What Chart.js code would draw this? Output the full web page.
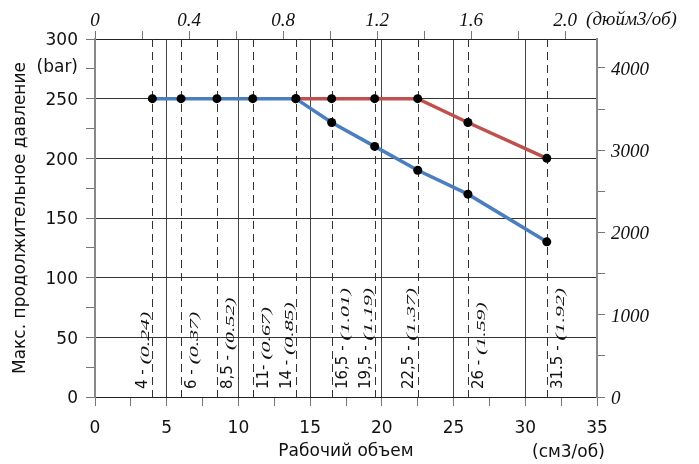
<!DOCTYPE html>
<html>
<head>
<meta charset="utf-8">
<script src="https://cdn.jsdelivr.net/npm/chart.js@4/dist/chart.umd.min.js"></script>
<style>
  html, body { margin: 0; padding: 0; background: #fff; }
  #chart { display: block; }
</style>
</head>
<body>
<canvas id="chart" width="699" height="464"></canvas>
<script>
// Daten
const displacement = [4, 6, 8.5, 11, 14, 16.5, 19.5, 22.5, 26, 31.5];
const displacementInch = ['0.24', '0.37', '0.52', '0.67', '0.85', '1.01', '1.19', '1.37', '1.59', '1.92'];
const sizeNames = ['4 - ', '6 - ', '8,5 - ', '11- ', '14 - ', '16,5 - ', '19,5 - ', '22,5 - ', '26 - ', '31.5 - '];
const pressureBlue = [250, 250, 250, 250, 250, 230, 210, 190, 170, 130];
const pressureRed = [null, null, null, null, 250, 250, 250, 250, 230, 200];

// Achsen-Ticks
const xTickValues = [0, 2.5, 5, 7.5, 10, 12.5, 15, 17.5, 20, 22.5, 25, 27.5, 30, 32.5, 35];
const yTickValues = [0, 25, 50, 75, 100, 125, 150, 175, 200, 225, 250, 275, 300];
const psiTickValues = [0, 500, 1000, 1500, 2000, 2500, 3000, 3500, 4000];
const inchTickValues = [0, 0.2, 0.4, 0.6, 0.8, 1.0, 1.2, 1.4, 1.6, 1.8, 2.0];

const BAR_TO_PSI = 14.5038;
const CM3_PER_IN3 = 16.387;

// Beschriftung links (-1) oder rechts (1) der gestrichelten Linie
const labelSide = [-1, 1, 1, 1, -1, 1, -1, -1, 1, 1];

const SANS = "'DejaVu Sans', sans-serif";
const SERIF = "'Liberation Serif', serif";

function toPoints(values) {
    return displacement.map((x, i) => ({x: x, y: values[i]})).filter(p => p.y !== null);
}

function setTicks(values) {
    return scale => { scale.ticks = values.map(v => ({value: v})); };
}

// gestrichelte Linien + senkrechte Beschriftungen
const annotations = {
    id: 'annotations',
    beforeDatasetsDraw(chart) {
        const ctx = chart.ctx;
        const x = chart.scales.x;
        const area = chart.chartArea;
        ctx.save();
        ctx.strokeStyle = '#333';
        ctx.lineWidth = 1;
        ctx.setLineDash([8, 5]);
        displacement.forEach(v => {
            const px = Math.round(x.getPixelForValue(v)) + 0.5;
            ctx.beginPath();
            ctx.moveTo(px, area.top);
            ctx.lineTo(px, area.bottom);
            ctx.stroke();
        });
        ctx.setLineDash([]);
        ctx.fillStyle = '#111';
        ctx.textBaseline = 'alphabetic';
        ctx.textAlign = 'left';
        displacement.forEach((v, i) => {
            const px = x.getPixelForValue(v);
            const bx = labelSide[i] < 0 ? px - 5 : px + 15;
            ctx.save();
            ctx.translate(bx, area.bottom - 8);
            ctx.rotate(-Math.PI / 2);
            ctx.font = '15px ' + SANS;
            ctx.fillText(sizeNames[i], 0, 0);
            const w = ctx.measureText(sizeNames[i]).width;
            // kursiver Zoll-Wert, in Leserichtung gestreckt
            ctx.translate(w, 2);
            ctx.scale(1.9, 1);
            ctx.font = 'italic 11.5px ' + SERIF;
            ctx.fillText('(' + displacementInch[i] + ')', 0, 0);
            ctx.restore();
        });
        ctx.restore();
    },
    afterDraw(chart) {
        const ctx = chart.ctx;
        const s = chart.scales;
        ctx.save();
        ctx.fillStyle = '#111';
        ctx.font = 'italic 19px ' + SERIF;
        ctx.textAlign = 'left';
        ctx.textBaseline = 'alphabetic';
        ctx.fillText('(дюйм3/об)', s.x2.getPixelForValue(2.0) + 21, 25);
        ctx.font = '17px ' + SANS;
        ctx.fillText('(см3/об)', s.x.right - 65, 457);
        ctx.textAlign = 'right';
        ctx.textBaseline = 'middle';
        ctx.fillText('(bar)', s.y.right - 17, 68);
        ctx.restore();
    }
};

const config = {
    type: 'line',
    data: {
        datasets: [{
            label: 'blau',
            data: toPoints(pressureBlue),
            borderColor: '#4a7ebf',
            borderWidth: 3.5,
            pointRadius: 4.5,
            pointBackgroundColor: '#000',
            pointBorderWidth: 0,
            xAxisID: 'x', yAxisID: 'y'
        }, {
            label: 'rot',
            data: toPoints(pressureRed),
            borderColor: '#c0504d',
            borderWidth: 3.5,
            pointRadius: 4.5,
            pointBackgroundColor: '#000',
            pointBorderWidth: 0,
            xAxisID: 'x', yAxisID: 'y'
        }]
    },
    options: {
        responsive: false,
        animation: false,
        events: [],
        layout: {padding: 0},
        plugins: {legend: {display: false}, tooltip: {enabled: false}},
        scales: {
            x: {
                type: 'linear', position: 'bottom', min: 0, max: 35,
                afterBuildTicks: setTicks(xTickValues),
                afterFit: s => { s.height = 67; },
                grid: {
                    color: c => (c.tick && c.tick.value % 5 === 0 && c.tick.value > 0 && c.tick.value < 35) ? '#444' : 'rgba(0,0,0,0)',
                    tickColor: '#777', tickLength: 9, lineWidth: 1
                },
                border: {color: '#222', width: 1},
                ticks: {
                    autoSkip: false, maxRotation: 0, padding: 12, color: '#111',
                    font: {family: SANS, size: 17},
                    callback: v => v % 5 === 0 ? String(v) : ''
                },
                title: {display: true, text: 'Рабочий объем', color: '#111', font: {family: SANS, size: 17}, padding: {top: 0, bottom: 2}}
            },
            x2: {
                type: 'linear', position: 'top', min: 0, max: 35 / CM3_PER_IN3,
                afterBuildTicks: setTicks(inchTickValues),
                afterFit: s => { s.height = 39; },
                grid: {drawOnChartArea: false, tickColor: '#777', tickLength: 8},
                border: {color: '#222', width: 1},
                ticks: {
                    autoSkip: false, maxRotation: 0, padding: -1, color: '#111',
                    font: {family: SERIF, size: 19, style: 'italic'},
                    callback: v => {
                        const q = v / 0.4;
                        if (Math.abs(q - Math.round(q)) > 1e-6) return '';
                        return v === 0 ? '0' : v.toFixed(1);
                    }
                }
            },
            y: {
                type: 'linear', position: 'left', min: 0, max: 300,
                afterBuildTicks: setTicks(yTickValues),
                afterFit: s => { s.width = 95; },
                grid: {
                    color: c => (c.tick && c.tick.value % 50 === 0 && c.tick.value > 0 && c.tick.value < 300) ? '#333' : 'rgba(0,0,0,0)',
                    tickColor: '#777', tickLength: 9, lineWidth: 1
                },
                border: {color: '#888', width: 2},
                ticks: {
                    autoSkip: false, padding: 8, labelOffset: 2, color: '#111',
                    font: {family: SANS, size: 17},
                    callback: v => v % 50 === 0 ? String(v) : ''
                },
                title: {display: true, text: 'Макс. продолжительное давление', color: '#111', font: {family: SANS, size: 17}, padding: {top: 10, bottom: 0}}
            },
            y2: {
                type: 'linear', position: 'right', min: 0, max: 300 * BAR_TO_PSI,
                afterBuildTicks: setTicks(psiTickValues),
                afterFit: s => { s.width = 102; },
                grid: {drawOnChartArea: false, tickColor: '#777', tickLength: 8},
                border: {color: '#888', width: 2},
                ticks: {
                    autoSkip: false, padding: 6, labelOffset: 2, color: '#111',
                    font: {family: SERIF, size: 19, style: 'italic'},
                    callback: v => v % 1000 === 0 ? String(v) : ''
                }
            }
        }
    },
    plugins: [annotations]
};

const pressureChart = new Chart(document.getElementById('chart'), config);
</script>
</body>
</html>
